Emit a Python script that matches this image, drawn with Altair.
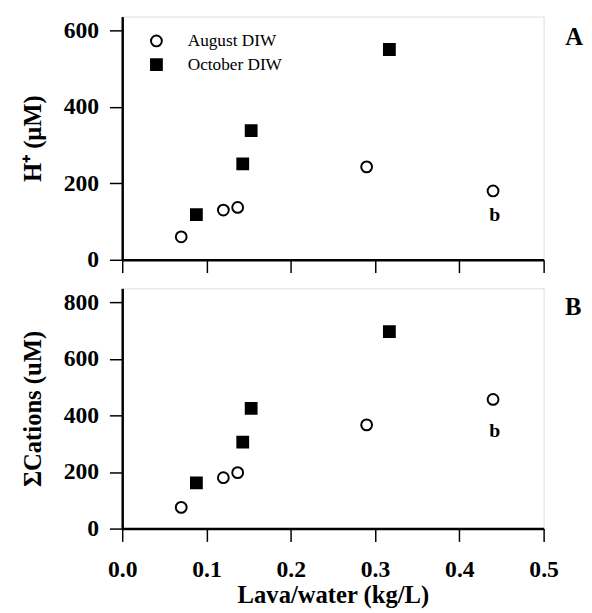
import altair as alt
import pandas as pd

# ---- data ----
series = ["August DIW", "October DIW"]
aug_x = [0.07, 0.12, 0.137, 0.29, 0.44]
aug_h = [60, 130, 137, 243, 180]
aug_cat = [75, 180, 198, 367, 457]
oct_x = [0.088, 0.143, 0.153, 0.317]
oct_h = [118, 251, 338, 550]
oct_cat = [162, 306, 425, 697]
x_ticks = [0.0, 0.1, 0.2, 0.3, 0.4, 0.5]
h_ticks = [0, 200, 400, 600]
cat_ticks = [0, 200, 400, 600, 800]
note_text = ["b"]
note_x = [0.442]
note_h = [118]
note_cat = [346]
panel_a = ["A"]
panel_b = ["B"]

df = pd.DataFrame({
    "x": aug_x + oct_x,
    "h": aug_h + oct_h,
    "cat": aug_cat + oct_cat,
    "series": [series[0]] * len(aug_x) + [series[1]] * len(oct_x),
})
notes = pd.DataFrame({"t": note_text, "x": note_x, "h": note_h, "cat": note_cat})

FONT = "Liberation Serif"
W, HA, HB = 428, 247, 244
LBL, TTL = 24, 25
TICK = 13

xscale = alt.Scale(domain=[0, 0.5], nice=False, zero=False)

def yaxis(title, values):
    return alt.Axis(values=values, title=title, grid=False, tickSize=TICK, tickWidth=1.5,
                    tickColor="black", domainColor="black", domainWidth=2.5, labelFlush=False,
                    labelFont=FONT, labelFontSize=LBL, labelFontWeight="bold", labelColor="black",
                    labelPadding=11, titleFont=FONT, titleFontSize=TTL, titleFontWeight="bold",
                    titleColor="black", titlePadding=18, format="d")

legend = alt.Legend(title=None, orient="none", legendX=26, legendY=16, labelFont=FONT,
                    labelFontSize=17.5, labelFontWeight="normal", labelColor="black",
                    symbolStrokeWidth=2, symbolSize=121,
                    labelOffset=23, rowPadding=4, padding=0, direction="vertical")

shape_scale = alt.Scale(domain=series, range=["circle", "square"])
fill_scale = alt.Scale(domain=series, range=["white", "black"])
stroke_scale = alt.Scale(domain=series, range=["black", "black"])

def points(ycol, yscale, yax, leg):
    return alt.Chart(df).mark_point(filled=True, size=121, strokeWidth=2,
                                    opacity=1).encode(
        x=alt.X("x:Q", scale=xscale),
        y=alt.Y(f"{ycol}:Q", scale=yscale, axis=yax),
        shape=alt.Shape("series:N", scale=shape_scale, legend=leg),
        fill=alt.Fill("series:N", scale=fill_scale, legend=leg),
        stroke=alt.Stroke("series:N", scale=stroke_scale, legend=leg),
    )

# Panel A
xa_axis = alt.Axis(values=x_ticks, labels=False, title=None, grid=False, tickSize=TICK,
                   tickWidth=1.5, tickColor="black", domainColor="black", domainWidth=2.5)
ya_scale = alt.Scale(domain=[0, 636], nice=False)
pa = points("h", ya_scale, yaxis("H⁺ (μM)", h_ticks), legend).encode(
    x=alt.X("x:Q", scale=xscale, axis=xa_axis))
na = alt.Chart(notes).mark_text(font=FONT, fontSize=20, fontWeight="bold", color="black").encode(
    x=alt.X("x:Q", scale=xscale), y=alt.Y("h:Q", scale=ya_scale), text="t:N")
la = alt.Chart(pd.DataFrame({"t": panel_a})).mark_text(
    font=FONT, fontSize=TTL, fontWeight="bold", color="black").encode(
    x=alt.value(W + 31), y=alt.value(21), text="t:N")
chart_a = alt.layer(pa, na, la).properties(width=W, height=HA)

# Panel B
xb_axis = alt.Axis(values=x_ticks, title="Lava/water (kg/L)", grid=False, tickSize=TICK,
                   tickWidth=1.5, tickColor="black", domainColor="black", domainWidth=2.5,
                   labelFlush=False,
                   labelFont=FONT, labelFontSize=LBL, labelFontWeight="bold", labelColor="black",
                   labelPadding=17, format=".1f", titleFont=FONT, titleFontSize=TTL,
                   titleFontWeight="bold", titleColor="black", titlePadding=1)
yb_scale = alt.Scale(domain=[0, 850], nice=False)
pb = points("cat", yb_scale, yaxis("ΣCations (uM)", cat_ticks), None).encode(
    x=alt.X("x:Q", scale=xscale, axis=xb_axis))
nb = alt.Chart(notes).mark_text(font=FONT, fontSize=20, fontWeight="bold", color="black").encode(
    x=alt.X("x:Q", scale=xscale), y=alt.Y("cat:Q", scale=yb_scale), text="t:N")
lb = alt.Chart(pd.DataFrame({"t": panel_b})).mark_text(
    font=FONT, fontSize=TTL, fontWeight="bold", color="black").encode(
    x=alt.value(W + 30), y=alt.value(19), text="t:N")
chart_b = alt.layer(pb, nb, lb).properties(width=W, height=HB)

chart = alt.vconcat(chart_a, chart_b, spacing=29, bounds="flush").resolve_scale(
    shape="independent", fill="independent", stroke="independent"
).properties(
    padding={"left": 12, "top": 3, "right": 0, "bottom": 0}
).configure_view(stroke="black", strokeWidth=1.5).configure(background="white")

chart.save("out.html", embed_options={"renderer": "svg", "actions": False})
